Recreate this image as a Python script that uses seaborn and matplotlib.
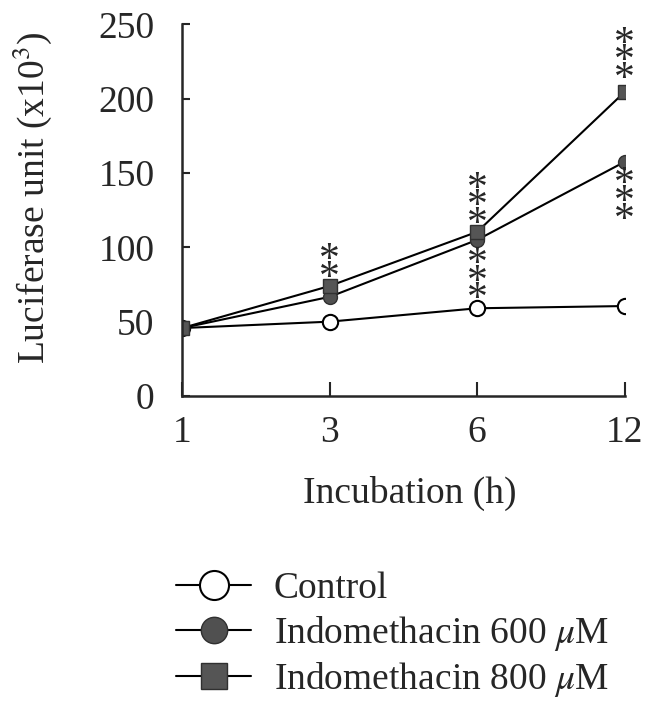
import seaborn as sns
import matplotlib.pyplot as plt
import numpy as np

# values (x10^3 luciferase units)
hours = ['1', '3', '6', '12']
control = [45.7, 50, 59, 60.5]
indo600 = [45.7, 66.7, 105, 157.5]
indo800 = [45.7, 74, 110.4, 204.5]

# significance marks: (x index, y centre, text)
stars = [(1, 85, '*\n*'), (2, 127, '*\n*\n*'), (2, 76.5, '*\n*\n*'),
         (3, 224.5, '*\n*\n*'), (3, 130, '*\n*\n*')]

sns.set_style('ticks')
plt.rcParams['font.family'] = ['Liberation Serif', 'DejaVu Serif']
plt.rcParams['mathtext.fontset'] = 'stix'

fig = plt.figure(figsize=(6.46, 7.04), dpi=100)
ax = fig.add_axes([0.282, 0.4375, 0.685, 0.528])

pos = np.arange(len(hours))
sns.lineplot(x=pos, y=control, ax=ax, color='black', lw=1.5, marker='o', ms=11,
             markerfacecolor='white', markeredgecolor='black', mew=1.5, label='Control')
sns.lineplot(x=pos, y=indo600, ax=ax, color='black', lw=1.5, marker='o', ms=10,
             markerfacecolor='#505050', markeredgecolor='#303030', mew=1,
             label='Indomethacin 600 $\\mu$M')
sns.lineplot(x=pos, y=indo800, ax=ax, color='black', lw=1.5, marker='s', ms=10,
             markerfacecolor='#555555', markeredgecolor='#303030', mew=1,
             label='Indomethacin 800 $\\mu$M')

for xi, yv, s in stars:
    ax.text(xi, yv, s, ha='center', va='center', fontsize=30, linespacing=0.3)

ax.set_xlim(0, 3)
ax.set_ylim(0, 250)
ax.set_xticks(pos)
ax.set_xticklabels(hours)
ax.set_yticks([0, 50, 100, 150, 200, 250])
ax.tick_params(direction='in', width=1.5, labelsize=27)
ax.tick_params(axis='y', pad=20, length=6)
ax.tick_params(axis='x', pad=14, length=10)
for sp in ['left', 'bottom']:
    ax.spines[sp].set_linewidth(1.8)
sns.despine(ax=ax)
ax.set_xlabel('Incubation (h)', fontsize=27)
ax.xaxis.set_label_coords(0.515, -0.215)
ax.set_ylabel('Luciferase unit (x10$^3$)', fontsize=27)
ax.yaxis.set_label_coords(-0.29, 0.532)

ax.legend(loc='center left', bbox_to_anchor=(0.273, 0.097), bbox_transform=fig.transFigure,
          frameon=False, fontsize=27, handlelength=2.0, handletextpad=0.6,
          labelspacing=0.2, borderaxespad=0, borderpad=0, markerscale=1.9)

fig.savefig('out.png', dpi=100)
